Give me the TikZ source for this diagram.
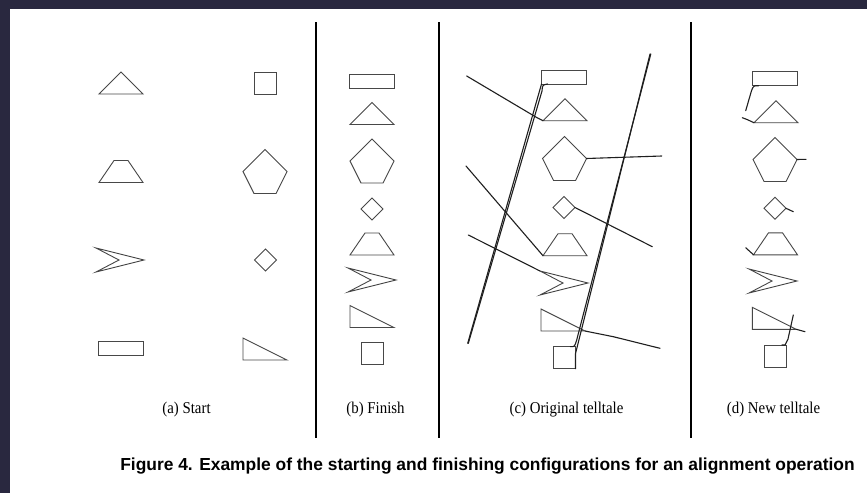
\documentclass[tikz,border=0pt]{standalone}
\usepackage{fontspec}
\setmainfont{Liberation Serif}
\newfontfamily\capfont{Liberation Sans}
\definecolor{framecol}{RGB}{41,40,63}
\begin{document}
\begin{tikzpicture}[x=1pt,y=-1pt,
  outl/.style={draw=black!72, line width=0.9pt, line join=miter},
  tell/.style={draw=black!88, line width=1.1pt, line cap=round, line join=round},
  stub/.style={draw=black!88, line width=1.1pt, line cap=round, line join=round},
  divider/.style={draw=black, line width=2pt},
  lab/.style={inner sep=0pt, xscale=0.9, font=\fontsize{16.5}{18}\selectfont},
  pics/rectbox/.style={code={
    \draw[outl] (-22.5,-7) rectangle (22.5,7);
    \coordinate (-bl) at (-22.5,7); \coordinate (-tl) at (-22.5,-7);}},
  pics/tri/.style={code={
    \draw[outl] (0,-11) -- (22,11) -- (-22,11) -- cycle;
    \coordinate (-bl) at (-22,11);}},
  pics/pent/.style={code={
    \draw[outl] (0,-22) -- (22,0) -- (11,22) -- (-11,22) -- (-22,0) -- cycle;
    \coordinate (-r) at (22,0);}},
  pics/diam/.style={code={
    \draw[outl] (0,-11) -- (11,0) -- (0,11) -- (-11,0) -- cycle;
    \coordinate (-r) at (11,0);}},
  pics/trap/.style={code={
    \draw[outl] (-7,-11) -- (7,-11) -- (22,11) -- (-22,11) -- cycle;
    \coordinate (-bl) at (-22,11);}},
  pics/chev/.style={code={
    \draw[outl] (-24,-12) -- (24,0) -- (-24,12) -- (-1,0) -- cycle;
    \coordinate (-ut) at (-24,-12);}},
  pics/rtri/.style={code={
    \draw[outl] (-22,-11) -- (-22,11) -- (22,11) -- cycle;
    \coordinate (-br) at (22,11);}},
  pics/sq/.style={code={
    \draw[outl] (-11,-11) rectangle (11,11);
    \coordinate (-tr) at (11,-11); \coordinate (-br) at (11,11);}},
]
\useasboundingbox (0,0) rectangle (867,493);
\fill[white] (0,0) rectangle (867,493);
% dark frame along the top and left edges
\fill[framecol] (0,0) rectangle (867,9);
\fill[framecol] (0,0) rectangle (10,493);

% panel dividers
\draw[divider] (316,22) -- (316,438);
\draw[divider] (439,22) -- (439,438);
\draw[divider] (691,22) -- (691,438);

% (a) start configuration
\pic (a1) at (121,83) {tri};
\pic (a2) at (121,171.5) {trap};
\pic (a3) at (120,260) {chev};
\pic (a4) at (120.5,348.7) {rectbox};
\pic (a5) at (265,83) {sq};
\pic (a6) at (265,171.5) {pent};
\pic (a7) at (265.5,260) {diam};
\pic (a8) at (265,349) {rtri};

% (b) finish configuration
\pic (b1) at (372,81.5) {rectbox};
\pic (b2) at (372,113.5) {tri};
\pic (b3) at (372,161) {pent};
\pic (b4) at (372,209) {diam};
\pic (b5) at (372,244) {trap};
\pic (b6) at (372,280) {chev};
\pic (b7) at (372,316.5) {rtri};
\pic (b8) at (372,353) {sq};

% (c) original telltale
\pic (c1) at (564,77) {rectbox};
\pic (c2) at (565,109.7) {tri};
\pic (c3) at (564.5,158.5) {pent};
\pic (c4) at (564,207.5) {diam};
\pic (c5) at (565,244.7) {trap};
\pic (c6) at (564,283) {chev};
\pic (c7) at (563,320) {rtri};
\pic (c8) at (564.5,357.7) {sq};
\coordinate (e1) at (467.7,343.3);
\coordinate (e2) at (466.7,76);
\coordinate (e3) at (661.7,156);
\coordinate (e4) at (652.3,246.7);
\coordinate (e5) at (466,166);
\coordinate (e6) at (468.3,235);
\coordinate (e7) at (660,348.3);
\coordinate (e8) at (650,54);
\draw[tell] (c1-bl) -- (e1);
\draw[tell] ([xshift=6pt]c1-bl) .. controls ([xshift=1pt,yshift=-1pt]c1-bl) .. ([xshift=0.5pt,yshift=-7pt]c1-bl) -- ([xshift=0.6pt]e1);
\draw[tell] (c2-bl) -- ([xshift=-6pt,yshift=3pt]c2-bl) -- (e2);
\draw[tell] (c3-r) -- (e3);
\draw[tell] (c4-r) -- (e4);
\draw[tell] (c5-bl) -- (e5);
\draw[tell] (c6-ut) -- (e6);
\draw[tell] (c7-br) -- (613.3,336.7) -- (e7);
\draw[tell] (c8-br) -- ([yshift=15pt]c8-br) -- (e8);
\draw[tell] ([xshift=-5pt]c8-tr) .. controls ([xshift=-1pt]c8-tr) .. ([xshift=1pt,yshift=6pt]c8-tr) -- ([xshift=0.8pt]e8);

% (d) new telltale
\pic (d1) at (775,78.7) {rectbox};
\pic (d2) at (776,111.7) {tri};
\pic (d3) at (775,159.5) {pent};
\pic (d4) at (775,208.3) {diam};
\pic (d5) at (775.5,243.8) {trap};
\pic (d6) at (773,281) {chev};
\pic (d7) at (774.3,318.3) {rtri};
\pic (d8) at (775,356) {sq};
\draw[stub] ([xshift=6pt]d1-bl) .. controls ([xshift=1pt]d1-bl) .. ([xshift=-1pt,yshift=-5pt]d1-bl) -- (745.7,110.7);
\draw[stub] (d2-bl) -- (747,119.5) -- (742.3,117.7);
\draw[stub] (d3-r) -- (806,159.3);
\draw[stub] (d4-r) -- (793.3,211.7);
\draw[stub] (d5-bl) -- (745.7,247.7);
\draw[stub] (d7-br) -- (805,331.7);
\draw[stub] ([xshift=-4pt]d8-tr) -- ([xshift=-1pt]d8-tr) -- ([xshift=2pt,yshift=6pt]d8-tr) -- (793.3,315);

% panel labels
\node[lab] (la) at (186.5,410) {(a) Start};
\node[lab] (lb) at (375.5,410) {(b) Finish};
\node[lab] (lc) at (566.5,410) {(c) Original telltale};
\node[lab] (ld) at (773.5,410) {(d) New telltale};

% caption
\node[inner sep=0pt, font=\capfont\bfseries\fontsize{17.4}{20}\selectfont] (cap) at (487.5,466)
  {Figure 4. Example of the starting and finishing configurations for an alignment operation};
\end{tikzpicture}
\end{document}
